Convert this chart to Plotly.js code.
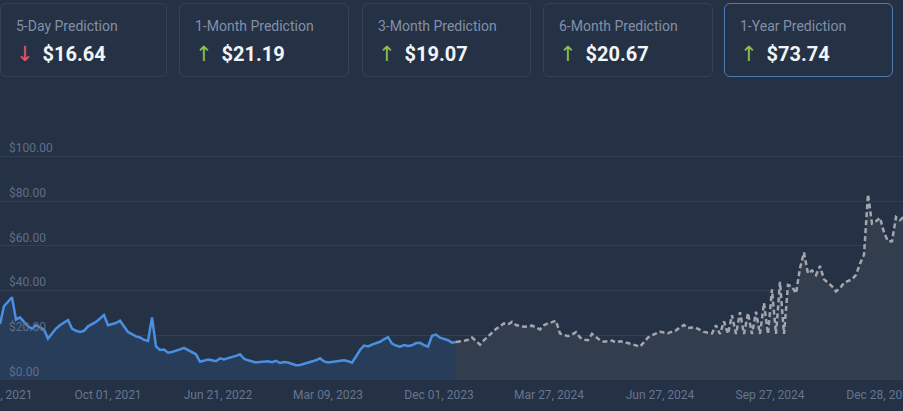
<!DOCTYPE html>
<html>
<head>
<meta charset="utf-8">
<script src="https://cdn.plot.ly/plotly-3.0.1.min.js"></script>
<style>
  html, body { margin:0; padding:0; width:903px; height:411px; overflow:hidden; background:#253145; font-family:Roboto, "Open Sans", sans-serif; }
  #chart { position:absolute; left:-12px; top:0; width:915px; height:411px; }
  .card { position:absolute; top:3px; height:74px; border:1px solid #35415a; border-radius:6px; box-sizing:border-box; background:#253145; }
  .card.active { border-color:#4f7bb3; }
  .lbl { position:absolute; left:15px; top:14px; font-size:14px; color:#8290a6; white-space:nowrap; }
  .val { position:absolute; left:15px; top:38px; font-size:20px; font-weight:700; color:#f2f4f7; white-space:nowrap; }
  .arr { font-family:"DejaVu Sans", sans-serif; font-weight:400; font-size:21px; margin-right:9px; }
  .up { color:#8cc152; }
  .down { color:#e5566b; }
</style>
</head>
<body>
<div id="chart"></div>
<div id="cards"></div>
<script>
// ---- Prediction cards ----
const cardLabels = ["5-Day Prediction", "1-Month Prediction", "3-Month Prediction", "6-Month Prediction", "1-Year Prediction"];
const cardValues = ["$16.64", "$21.19", "$19.07", "$20.67", "$73.74"];
const cardDirections = ["down", "up", "up", "up", "up"];

// ---- Chart data (evenly spaced samples along the axis) ----
const historyValues = [
  25, 33, 35, 37, 27, 28, 26, 24, 23, 24.5,
  23.5, 22.5, 18.5, 21, 23, 24.5, 25.5, 26.8, 23, 22,
  21.5, 22, 24, 25, 26, 27.5, 29, 24.5, 25, 25.5,
  26.5, 24, 21.5, 20.5, 19.5, 19, 18, 17.5, 28, 15,
  13.4, 13.6, 12.2, 12.5, 13, 13.7, 14.4, 13.5, 12.5, 11.5,
  8.2, 8.7, 9.2, 8.8, 8.4, 9.7, 9.2, 9.8, 10.2, 10.8,
  11.5, 9.5, 8.8, 8.2, 7.8, 8.0, 8.3, 8.4, 8.0, 8.6,
  7.6, 8.0, 7.8, 7.2, 6.6, 6.7, 7.2, 7.6, 8.2, 8.8,
  9.7, 8.3, 7.8, 8.0, 8.4, 8.5, 8.8, 8.4, 7.7, 10.5,
  13.4, 15.4, 15.0, 15.8, 16.4, 17.1, 18.2, 19.2, 16.3, 15.4,
  14.9, 15.6, 15.2, 15.5, 16.5, 16.6, 15.6, 14.9, 19.8, 20.3,
  18.9, 18.4, 17.8, 16.7, 17.0
];
const predictionValues = [
  17.0, 17.1, 17.5, 18.0, 19.0, 17.5, 15.8, 17.8, 19.6, 21.2,
  22.8, 24.0, 25.3, 24.8, 26.0, 24.6, 24.2, 23.8, 24.0, 24.3,
  23.5, 22.6, 24.5, 25.4, 25.9, 26.5, 20.8, 20.2, 19.6, 20.3,
  21.4, 19.0, 18.0, 17.8, 20.6, 19.2, 17.8, 17.1, 17.4, 17.6,
  16.8, 17.3, 17.0, 16.6, 16.2, 15.5, 14.9, 17.2, 19.0, 20.0,
  20.8, 21.6, 21.2, 20.9, 21.6, 22.2, 23.5, 24.6, 23.2, 23.5,
  23.3, 22.4, 21.5, 21.1, 20.8, 24.5, 20.6, 26.2, 20.6, 29.0,
  20.6, 30.3, 20.6, 30.0, 20.6, 30.5, 20.6, 34.5, 20.6, 40.5,
  20.6, 43.9, 20.6, 42.5, 41.9, 38.7, 50.0, 57.0, 47.6, 49.0,
  46.9, 51.0, 45.0, 43.5, 41.9, 39.6, 41.0, 43.5, 44.2, 45.0,
  47.0, 52.0, 56.0, 83.0, 70.0, 71.0, 72.5, 66.0, 62.0, 62.0,
  72.9, 71.5, 73.0
];
const xTickPositions = [-0.5, 27, 54.5, 82, 109.75, 137.25, 165, 192.5, 220.25];
const xTickLabels = ["Jan 11, 2021", "Oct 01, 2021", "Jun 21, 2022", "Mar 09, 2023", "Dec 01, 2023", "Mar 27, 2024", "Jun 27, 2024", "Sep 27, 2024", "Dec 28, 2024"];

// build cards
const cardLefts = [0, 179, 362, 543, 724];
const cardWidths = [167, 170, 169, 170, 169];
const cardsEl = document.getElementById('cards');
cardLabels.forEach((t, i) => {
  const c = document.createElement('div');
  c.className = 'card' + (i === 4 ? ' active' : '');
  c.style.left = cardLefts[i] + 'px';
  c.style.width = cardWidths[i] + 'px';
  const l = document.createElement('div'); l.className = 'lbl'; l.textContent = t;
  const v = document.createElement('div'); v.className = 'val';
  const a = document.createElement('span');
  a.className = 'arr ' + cardDirections[i];
  a.textContent = cardDirections[i] === 'up' ? '↑' : '↓';
  v.appendChild(a);
  v.appendChild(document.createTextNode(cardValues[i]));
  c.appendChild(l); c.appendChild(v);
  cardsEl.appendChild(c);
});

const histX = historyValues.map((_, i) => i);
const predStart = historyValues.length - 1;
const predX = predictionValues.map((_, i) => predStart + i);

const traces = [
  {
    x: histX, y: historyValues, type: 'scatter', mode: 'lines',
    line: { color: '#4a8fe0', width: 2.5 },
    fill: 'tozeroy', fillcolor: '#283d5a', hoverinfo: 'skip'
  },
  {
    x: predX, y: predictionValues, type: 'scatter', mode: 'lines',
    line: { color: '#a3a7ad', width: 2.5, dash: '5px,3px' },
    fill: 'tozeroy', fillcolor: '#323d4e', hoverinfo: 'skip'
  }
];

// the first tick label sits under the inside y labels, so it is drawn as an annotation
const annotations = [{
  x: xTickPositions[0], xref: 'x', y: 0, yref: 'paper',
  yanchor: 'top', xanchor: 'center', yshift: -6,
  text: xTickLabels[0], showarrow: false,
  font: { family: 'Roboto, sans-serif', color: '#667690', size: 12 }
}];

const layout = {
  width: 915, height: 411,
  margin: { l: 0, r: 0, t: 134, b: 31, pad: 0 },
  paper_bgcolor: 'rgba(0,0,0,0)',
  plot_bgcolor: '#253145',
  showlegend: false,
  font: { family: 'Roboto, sans-serif', color: '#667690', size: 12 },
  annotations: annotations,
  xaxis: {
    range: [-3, 225.75],
    tickmode: 'array', tickvals: xTickPositions.slice(1), ticktext: xTickLabels.slice(1),
    showgrid: false, zeroline: false, showline: false, ticks: '',
    ticklabelstandoff: 6,
    ticklabeloverflow: 'allow',
    tickfont: { color: '#667690', size: 12 }
  },
  yaxis: {
    range: [0, 110],
    dtick: 20, tick0: 0,
    tickprefix: '$', tickformat: '.2f',
    ticklabelposition: 'inside top',
    ticklabelstandoff: 18,
    showgrid: true, gridcolor: '#323e53', gridwidth: 1,
    zeroline: false, showline: false, ticks: '',
    tickfont: { color: '#5f6f88', size: 12 }
  }
};

Plotly.newPlot('chart', traces, layout, { displayModeBar: false, staticPlot: true });
</script>
</body>
</html>
